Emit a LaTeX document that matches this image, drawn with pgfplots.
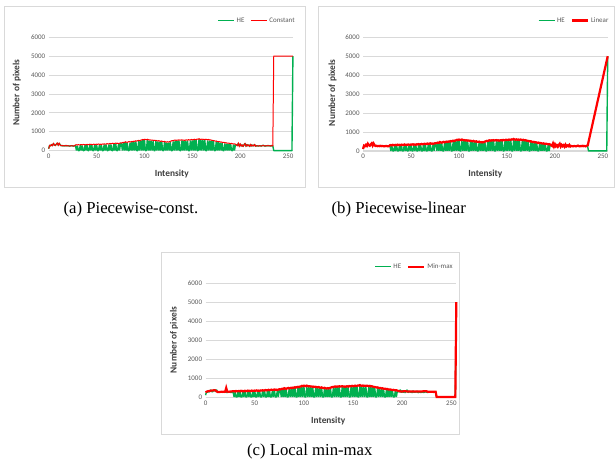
\documentclass[border=0pt]{standalone}
\usepackage{pgfplots}
\pgfplotsset{compat=1.18}
\usepackage{pgfplotstable}
\usepackage{fontspec}
\setmainfont{Liberation Serif}
\newfontfamily\carlito{Carlito}

\definecolor{heg}{HTML}{00B050}
\definecolor{rd}{HTML}{FF0000}
\definecolor{gridg}{HTML}{D9D9D9}
\definecolor{txtg}{HTML}{595959}

% x = intensity, he = histogram equalisation, cst = piecewise-constant, mm = local min-max
\pgfplotstableread{
x he cst mm
0 100 100 250
1 280 280 280
2 250 250 300
3 320 320 310
4 260 260 320
5 380 380 330
6 300 300 340
7 270 270 340
8 340 340 350
9 400 400 360
10 280 280 350
11 390 390 310
12 300 300 270
13 260 260 260
14 270 270 270
15 250 250 270
16 260 260 280
17 250 250 270
18 270 270 280
19 250 250 270
20 260 260 280
21 250 250 480
22 240 240 290
23 250 250 280
24 260 260 280
25 250 250 290
26 240 240 290
27 250 250 300
28 270 300 300
29 0 310 310
30 260 290 290
31 0 320 320
32 0 300 300
33 280 310 310
34 0 320 320
35 270 300 300
36 0 330 330
37 0 310 310
38 290 320 320
39 0 300 300
40 300 330 330
41 0 320 320
42 0 310 310
43 310 340 340
44 0 320 320
45 300 330 330
46 0 310 310
47 0 340 340
48 300 330 330
49 0 320 320
50 310 340 340
51 0 330 330
52 0 350 350
53 300 330 330
54 0 340 340
55 290 320 320
56 0 350 350
57 0 340 340
58 330 360 360
59 0 340 340
60 320 350 350
61 0 370 370
62 0 350 350
63 330 360 360
64 0 380 380
65 330 360 360
66 0 370 370
67 0 390 390
68 340 370 370
69 0 380 380
70 370 400 400
71 0 380 380
72 0 390 390
73 340 370 370
74 0 390 390
75 380 410 410
76 370 400 400
77 0 420 420
78 410 440 440
79 0 420 420
80 440 470 470
81 0 450 450
82 400 430 430
83 0 460 460
84 0 480 480
85 420 450 450
86 0 470 470
87 460 490 490
88 0 470 470
89 470 500 500
90 0 490 490
91 490 520 520
92 0 500 500
93 0 530 530
94 510 540 540
95 0 520 520
96 520 550 550
97 0 560 560
98 560 590 590
99 0 570 570
100 570 600 600
101 0 590 590
102 0 570 570
103 570 600 600
104 0 580 580
105 530 560 560
106 0 570 570
107 520 550 550
108 0 560 560
109 510 540 540
110 0 550 550
111 0 530 530
112 510 540 540
113 0 520 520
114 480 510 510
115 0 530 530
116 470 500 500
117 0 490 490
118 480 510 510
119 0 480 480
120 0 470 470
121 460 490 490
122 0 460 460
123 420 450 450
124 0 470 470
125 420 450 450
126 0 470 470
127 460 490 490
128 0 510 510
129 0 530 530
130 490 520 520
131 0 550 550
132 530 560 560
133 0 540 540
134 530 560 560
135 0 550 550
136 540 570 570
137 0 550 550
138 0 560 560
139 540 570 570
140 0 550 550
141 530 560 560
142 0 540 540
143 530 560 560
144 0 570 570
145 520 550 550
146 0 580 580
147 0 560 560
148 540 570 570
149 0 590 590
150 540 570 570
151 0 580 580
152 570 600 600
153 0 580 580
154 560 590 590
155 0 610 610
156 0 600 600
157 600 630 630
158 0 600 600
159 560 590 590
160 0 610 610
161 560 590 590
162 0 600 600
163 550 580 580
164 0 600 600
165 0 590 590
166 540 570 570
167 0 590 590
168 530 560 560
169 0 570 570
170 520 550 550
171 0 540 540
172 500 530 530
173 0 520 520
174 0 500 500
175 480 510 510
176 0 480 480
177 440 470 470
178 0 480 480
179 420 450 450
180 0 460 460
181 410 440 440
182 0 430 430
183 0 440 440
184 380 410 410
185 0 420 420
186 370 400 400
187 0 390 390
188 370 400 400
189 0 380 380
190 340 370 370
191 0 380 380
192 0 360 360
193 320 350 350
194 0 360 360
195 310 340 340
196 300 300 320
197 260 260 310
198 390 390 300
199 230 230 290
200 350 350 290
201 240 240 300
202 300 300 300
203 220 220 300
204 310 310 300
205 380 380 290
206 230 230 290
207 320 320 290
208 250 250 290
209 300 300 290
210 220 220 290
211 330 330 290
212 240 240 290
213 290 290 290
214 250 250 290
215 320 320 290
216 230 230 290
217 260 260 290
218 250 250 290
219 240 240 290
220 260 260 290
221 250 250 300
222 240 240 300
223 260 260 300
224 280 280 300
225 250 250 300
226 240 240 280
227 260 260 280
228 250 250 280
229 270 270 280
230 250 250 280
231 260 260 280
232 240 240 280
233 270 270 280
234 250 250 280
235 0 5000 0
236 0 5000 0
237 0 5000 0
238 0 5000 0
239 0 5000 0
240 0 5000 0
241 0 5000 0
242 0 5000 0
243 0 5000 0
244 0 5000 0
245 0 5000 0
246 0 5000 0
247 0 5000 0
248 0 5000 0
249 0 5000 0
250 0 5000 0
251 0 5000 0
252 0 5000 0
253 0 5000 0
254 0 5000 0
255 5000 5000 5000
}\hist

\pgfplotsset{
  excel/.style={
    scale only axis,
    xmin=0, xmax=255, ymin=0, ymax=6000,
    xtick={0,50,...,250},
    ytick={0,1000,...,6000},
    axis lines=left,
    axis line style={-},
    y axis line style={draw=none},
    x axis line style={draw=gridg, line width=0.8bp},
    major tick length=0pt,
    ymajorgrids,
    grid style={draw=gridg, line width=0.7bp},
    clip=false,
    scaled ticks=false,
    /pgf/number format/assume math mode=true,
    /pgf/number format/1000 sep={},
    tick label style={font=\carlito\fontsize{7}{8}\selectfont, text=txtg},
    label style={font=\carlito\bfseries\fontsize{9.4}{10}\selectfont, text=txtg!70!black},
    legend columns=2,
    legend image code/.code={\draw[##1] (0bp,0bp) -- (16bp,0bp);},
    legend style={draw=none, fill=none, inner sep=0pt,
      font=\carlito\fontsize{7}{8}\selectfont, text=txtg,
      /tikz/every even column/.append style={column sep=4bp}},
    xlabel={Intensity},
    ylabel={Number of pixels},
  },
  hestyle/.style={heg, line width=1.4bp, line join=bevel,
    legend image code/.code={\draw[heg, line width=1bp] (0bp,0bp) -- (16bp,0bp);}},
}

\begin{document}
\begin{tikzpicture}
\fill[white] (0bp,0bp) rectangle (615bp,470bp);
% frames
\draw[gridg, line width=0.8bp] (4.5bp,464bp) rectangle (306bp,282bp);
\draw[gridg, line width=0.8bp] (319bp,464bp) rectangle (615bp,282bp);
\draw[gridg, line width=0.8bp] (162bp,217bp) rectangle (460bp,35bp);

% (a) piecewise-constant
\begin{axis}[excel, at={(48.7bp,319.3bp)}, anchor=south west,
  width=244.4bp, height=113.4bp,
  xlabel style={at={(axis description cs:0.504,-0.205)}, anchor=center},
  ylabel style={at={(axis description cs:-0.13,0.51)}, anchor=center},
  legend style={at={(axis description cs:1.016,1.144)}, anchor=east}]
\addplot[hestyle] table[x=x, y=he] {\hist};
\addlegendentry{HE}
\addplot[rd, line width=1bp] table[x=x, y=cst] {\hist};
\addlegendentry{Constant}
\end{axis}

% (b) piecewise-linear
\begin{axis}[excel, at={(363.3bp,319bp)}, anchor=south west,
  width=244.8bp, height=113.7bp,
  xlabel style={at={(axis description cs:0.5,-0.205)}, anchor=center},
  ylabel style={at={(axis description cs:-0.125,0.51)}, anchor=center},
  legend style={at={(axis description cs:1.012,1.147)}, anchor=east}]
\addplot[hestyle] table[x=x, y=he] {\hist};
\addlegendentry{HE}
\addplot[rd, line width=2.2bp, restrict x to domain=0:234] table[x=x, y=cst] {\hist};
\addlegendentry{Linear}
\addplot[rd, line width=2.2bp, forget plot] coordinates {(234,250) (255,5000)};
\end{axis}

% (c) local min-max
\begin{axis}[excel, at={(205.7bp,72.7bp)}, anchor=south west,
  width=250.9bp, height=114bp,
  xlabel style={at={(axis description cs:0.489,-0.214)}, anchor=center},
  ylabel style={at={(axis description cs:-0.126,0.50)}, anchor=center},
  legend style={at={(axis description cs:0.994,1.143)}, anchor=east}]
\addplot[hestyle] table[x=x, y=he] {\hist};
\addlegendentry{HE}
\addplot[rd, line width=2.2bp] table[x=x, y=mm] {\hist};
\addlegendentry{Min-max}
\end{axis}

% captions
\node[font=\fontsize{16.8}{20}\selectfont] at (131bp,260bp) {(a) Piecewise-const.};
\node[font=\fontsize{16.8}{20}\selectfont] at (399bp,260bp) {(b) Piecewise-linear};
\node[font=\fontsize{16.8}{20}\selectfont] at (310bp,18bp) {(c) Local min-max};
\end{tikzpicture}
\end{document}
